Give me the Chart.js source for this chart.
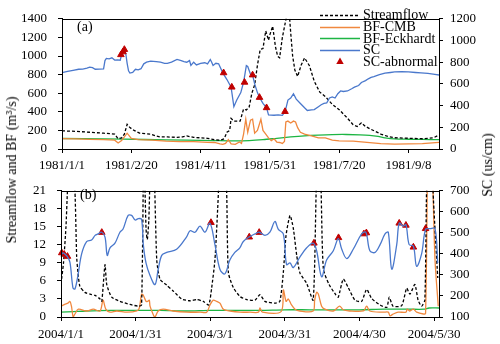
<!DOCTYPE html>
<html><head><meta charset="utf-8">
<script src="https://cdn.jsdelivr.net/npm/chart.js@4/dist/chart.umd.min.js"></script>
<style>
html,body{margin:0;padding:0;background:#fff;}
#wrap{position:relative;width:500px;height:344px;overflow:hidden;background:#fff;}
canvas{position:absolute;left:0;}
#ca{top:0}
#cb{top:172px}
.yt{position:absolute;font-family:'Liberation Serif','Times New Roman',serif;font-size:14px;color:#000;white-space:nowrap;transform:translate(-50%,-50%) rotate(-90deg);}
</style></head><body>
<div id="wrap">
<canvas id="ca" width="500" height="172"></canvas>
<canvas id="cb" width="500" height="172"></canvas>
<div class="yt" style="left:12px;top:170px">Streamflow and BF (m³/s)</div>
<div class="yt" style="left:488px;top:165px">SC (us/cm)</div>
</div>
<script>
// ---------- Panel (a): 1981, x = days since 1981/1/1 ----------
const aTickDays = [0, 50, 100, 150, 200, 250];
const aTickLabels = ['1981/1/1', '1981/2/20', '1981/4/11', '1981/5/31', '1981/7/20', '1981/9/8'];
const aLeftTicks = [0, 200, 400, 600, 800, 1000, 1200, 1400];
const aRightTicks = [0, 200, 400, 600, 800, 1000, 1200];

const aQDays = [0, 10, 20, 30, 38, 40.5, 43, 45, 47, 49, 52, 56, 60, 64, 68, 71, 76, 83, 87, 90, 95, 100, 105, 110, 114, 117, 119, 121, 122, 124, 126, 128.5, 131, 133, 135, 137, 139, 141, 143, 145, 147, 149, 150, 152, 154, 155.6, 157, 159, 162.3, 163.5, 165, 166.4, 168, 170, 172.5, 175, 178.5, 182, 186, 190, 195, 200, 206, 210, 213, 216, 219, 223, 230, 235, 240, 250, 260, 268, 272];
const aQ = [195, 190, 180, 170, 160, 110, 120, 160, 265, 230, 200, 170, 165, 160, 140, 130, 130, 125, 130, 140, 125, 120, 115, 100, 95, 110, 180, 200, 330, 300, 300, 300, 430, 420, 450, 600, 690, 900, 1070, 1080, 1270, 1170, 1230, 1320, 1100, 997, 980, 1200, 1450, 1550, 1250, 1000, 850, 780, 900, 980, 896, 728, 611, 564, 480, 423, 330, 262, 242, 282, 242, 211, 161, 135, 121, 115, 110, 120, 150];

const aBfDays = [0, 10, 20, 30, 38, 40.5, 43, 47, 50, 55, 65, 75, 85, 95, 105, 110, 114, 116, 118, 120, 122, 125, 128, 129.5, 131, 132.6, 134, 136, 137.5, 139, 141, 143.5, 145, 147, 149, 151, 153, 155, 157, 159, 160.5, 161.5, 163, 165, 167, 168.5, 170, 172, 175, 180, 185, 190, 195, 200, 210, 220, 230, 240, 250, 260, 272];
const aBf = [112, 108, 104, 100, 95, 64, 90, 170, 115, 100, 95, 85, 80, 80, 72, 70, 55, 50, 60, 100, 55, 50, 75, 60, 160, 320, 180, 310, 320, 170, 200, 320, 200, 160, 120, 90, 110, 75, 70, 60, 80, 290, 300, 280, 300, 290, 230, 180, 160, 140, 120, 120, 95, 88, 84, 72, 58, 52, 55, 58, 72];

const aEkDays = [0, 30, 60, 90, 110, 125, 135, 145, 155, 165, 175, 185, 195, 205, 215, 222, 228, 233, 240, 250, 260, 272];
const aEk = [113, 108, 102, 95, 90, 87, 90, 100, 115, 130, 142, 150, 155, 156, 152, 146, 135, 120, 108, 105, 103, 100];

const aScDays = [0, 4, 8, 12, 15, 18, 20, 22, 24, 27, 30, 31, 32, 34, 36, 38, 40, 42, 43, 44, 45, 46, 47, 48, 49, 51, 53, 55, 57, 59, 61, 64, 68, 71, 74, 76, 79, 83, 86, 88, 90, 92, 93, 95, 97, 100, 103, 105, 107, 108, 109, 111, 113, 116, 119, 122, 124, 126, 129, 131, 133, 134, 136, 137.5, 139, 141, 142.5, 145, 147.6, 149, 153, 156, 159, 161, 163, 165, 167, 169, 172, 175, 177, 180, 182, 185, 187, 189, 191, 193, 195, 197, 199, 201, 203, 206, 209, 211, 214, 216, 219, 221, 223, 225, 229, 233, 237, 240, 245, 250, 255, 259, 264, 269, 272];
const aSc = [703, 715, 725, 735, 737, 745, 755, 750, 735, 737, 738, 815, 835, 830, 840, 820, 822, 818, 870, 900, 925, 880, 790, 720, 700, 705, 735, 730, 740, 785, 800, 810, 805, 800, 790, 790, 800, 825, 815, 805, 800, 815, 770, 800, 775, 790, 795, 785, 825, 800, 770, 790, 785, 702, 640, 570, 390, 450, 520, 615, 768, 760, 690, 682, 600, 520, 475, 420, 380, 315, 311, 315, 310, 345, 451, 470, 509, 460, 420, 380, 355, 360, 363, 390, 408, 420, 425, 470, 480, 470, 510, 535, 530, 535, 555, 570, 585, 613, 630, 647, 660, 667, 685, 699, 705, 710, 712, 710, 705, 702, 697, 688, 682];

const aAbnDays = [42.5, 44, 45, 116.6, 122.5, 131.7, 137.5, 142.5, 147.6, 160.9];
const aAbn = [869, 895, 917, 702, 570, 615, 682, 475, 380, 345];

// ---------- Panel (b): 2004, x = days since 2004/1/1 ----------
const bTickDays = [0, 30, 60, 90, 120, 150];
const bTickLabels = ['2004/1/1', '2004/1/31', '2004/3/1', '2004/3/31', '2004/4/30', '2004/5/30'];
const bLeftTicks = [0, 3, 6, 9, 12, 15, 18, 21];
const bRightTicks = [100, 200, 300, 400, 500, 600, 700];

const bQDays = [0, 1, 2, 2.6, 4, 5.6, 6.3, 6.8, 7.6, 9.6, 11.7, 13.7, 15.7, 16.4, 17.7, 18.4, 20.4, 23.7, 27.7, 31.1, 32.4, 33.3, 34.2, 34.7, 35.3, 36.2, 37.2, 38.5, 39.8, 42.5, 45.2, 48.5, 51.9, 54.6, 57.2, 59.4, 60.6, 61.9, 63, 65, 66.6, 67.3, 69.3, 72, 74.7, 78, 80, 82, 86, 88, 89.4, 90.5, 92.1, 93.4, 94.8, 96.1, 98.8, 101.4, 102.6, 103.6, 104.6, 105.5, 107.8, 110.5, 111.5, 113.5, 115.5, 118.2, 120.9, 122.9, 124.9, 128.3, 131, 132, 133.5, 137, 139, 140.3, 142.3, 143.6, 145, 146.3, 147, 148.3, 149.6, 151.5];
const bQ = [5.5, 9, 15, 21, 30, 21, 10, 7.5, 5.1, 4.1, 3.8, 3.6, 3.0, 2.6, 8.7, 5.4, 3.3, 2.6, 2.1, 1.8, 2.0, 28, 14.6, 12.9, 16, 28, 28, 9.5, 6.3, 5.3, 4.3, 3.0, 2.7, 2.9, 2.6, 2.0, 4.9, 9.5, 18, 35, 21, 7.4, 4.9, 3.4, 2.9, 2.8, 3.7, 2.6, 2.3, 2.6, 7.4, 13.6, 16.9, 14.8, 10.2, 7.3, 5.6, 2.8, 21, 35, 21, 8.0, 5.4, 3.7, 3.3, 6.3, 4.9, 2.8, 2.6, 4.6, 3.1, 2.0, 1.6, 3.3, 1.8, 1.9, 4.8, 3.8, 5.4, 2.8, 1.8, 2.8, 21, 40, 21, 6.5];

const bBfDays = [0, 1.5, 2.8, 3.6, 4.2, 4.9, 5.6, 7, 10.3, 13, 15.7, 16.9, 18, 19.7, 22.4, 26.5, 30.5, 31.5, 32.4, 33.1, 34.2, 34.8, 35.5, 35.8, 37.2, 37.8, 39.1, 41.1, 45, 50.5, 55.9, 58.6, 59.9, 61.2, 62.6, 63.9, 65.3, 68, 72, 76, 79.4, 80, 81, 88.5, 89.4, 90.5, 91.4, 92.7, 94.1, 96, 101.4, 102, 102.8, 103.5, 104.8, 106.1, 109.5, 112, 113.5, 116, 121.6, 122.9, 124.2, 129.6, 131.6, 132.3, 133.6, 135.6, 138.7, 139.2, 140.3, 141.7, 143, 145.7, 146.6, 147.6, 148.6, 149.6, 150.4, 151.7];
const bBf = [1.8, 2.1, 2.3, 2.6, 1.8, 0.0, 0.5, 1.3, 1.0, 1.3, 1.0, 2.8, 1.3, 0.8, 1.0, 0.8, 1.0, 1.5, 3.8, 3.6, 2.6, 2.6, 2.8, 1.8, 0.3, 0.0, 1.0, 1.3, 1.0, 0.8, 0.8, 0.8, 2.0, 2.8, 2.6, 2.3, 1.3, 1.0, 0.8, 0.8, 0.8, 1.5, 0.8, 0.9, 4.5, 2.6, 3.0, 2.0, 1.3, 1.0, 1.0, 2.8, 4.1, 3.8, 1.8, 1.3, 1.0, 1.8, 1.2, 1.0, 1.0, 1.8, 1.0, 0.8, 0.8, 0.2, 0.5, 0.8, 0.8, 1.3, 1.0, 1.3, 0.8, 0.5, 0.6, 30, 35, 21, 9.5, 1.8];

const bEkDays = [0, 5, 10, 20, 30, 40, 50, 60, 70, 80, 90, 100, 110, 120, 130, 140, 146, 148, 152];
const bEk = [0.8, 0.9, 1.0, 1.1, 1.1, 1.1, 1.0, 1.1, 1.1, 1.1, 1.2, 1.2, 1.2, 1.2, 1.3, 1.3, 1.3, 1.5, 1.5];

const bScDays = [0, 0.8, 1.5, 2.5, 3.6, 4.8, 5.6, 6.8, 8.3, 10.3, 12.3, 13.7, 14.9, 16.4, 17.7, 18.6, 19.7, 21.7, 23.7, 24.9, 27, 28.4, 29.8, 31.1, 32.4, 33.1, 34.2, 35.8, 37.8, 39.1, 40.5, 42.5, 46.5, 50.5, 51.9, 53.9, 55.9, 57.9, 59.9, 61.9, 63.9, 65.9, 67.9, 69.9, 71.9, 73.3, 75.7, 78, 79.7, 82, 84, 86, 87.4, 89.4, 90.7, 92.1, 93.4, 96.1, 98.8, 101.4, 102.8, 104.8, 106.8, 109.5, 111.5, 112.9, 114.9, 117.5, 120.9, 122.6, 124.2, 126.3, 128.3, 130.3, 131.6, 133, 135, 136, 137.6, 138.7, 140, 141.7, 143, 145, 146.6, 148.4, 150.4, 151.5];
const bSc = [395, 405, 400, 388, 360, 239, 233, 297, 400, 458, 466, 488, 495, 503, 480, 393, 429, 451, 503, 517, 583, 583, 561, 568, 564, 444, 356, 297, 254, 327, 393, 407, 422, 481, 510, 503, 532, 503, 546, 444, 327, 305, 371, 407, 429, 459, 481, 495, 503, 488, 503, 554, 517, 495, 349, 357, 335, 386, 429, 451, 415, 291, 371, 415, 473, 422, 378, 422, 495, 503, 415, 407, 444, 495, 503, 327, 444, 546, 532, 539, 444, 437, 341, 400, 517, 520, 520, 356];

const bAbnDays = [0.3, 1.3, 2.6, 16.4, 60.3, 75.7, 79.7, 101.7, 111.6, 121.8, 122.8, 136, 138.7, 141.7, 146.6];
const bAbn = [405, 398, 388, 502, 549, 480, 502, 451, 477, 495, 500, 546, 536, 432, 520];

// ---------- helpers ----------
const FONT = "'Liberation Serif','Times New Roman',serif";
const C_Q = '#000000', C_BF = '#F0883E', C_EK = '#1DB543', C_SC = '#4A78CC', C_AB = '#C00000';
const pts = (xs, ys) => xs.map((x, i) => ({x: x, y: ys[i]}));

function lineDs(label, xs, ys, color, axis, dash, tension) {
  return {label: label, data: pts(xs, ys), yAxisID: axis, borderColor: color, backgroundColor: color,
    borderWidth: 1.3, borderDash: dash || [], pointRadius: 0, tension: tension || 0, fill: false};
}
function triDs(xs, ys) {
  return {label: 'SC-abnormal', data: pts(xs, ys), yAxisID: 'y2', showLine: false,
    pointStyle: 'triangle', pointRadius: 3.8, pointBorderWidth: 1, pointBackgroundColor: C_AB,
    pointBorderColor: C_AB, borderColor: C_AB, backgroundColor: C_AB, clip: false};
}

const framePlugin = {
  id: 'frame',
  afterDraw(chart) {
    const a = chart.chartArea, ctx = chart.ctx;
    ctx.save(); ctx.strokeStyle = '#000'; ctx.lineWidth = 1;
    ctx.strokeRect(Math.round(a.left) + 0.5, Math.round(a.top) + 0.5, Math.round(a.right - a.left), Math.round(a.bottom - a.top));
    ctx.restore();
  }
};

function textPlugin(id, label, x, y) {
  return {id: id, afterDraw(chart) {
    const ctx = chart.ctx; ctx.save();
    ctx.font = '14px ' + FONT; ctx.fillStyle = '#000'; ctx.textBaseline = 'middle'; ctx.textAlign = 'left';
    ctx.fillText(label, x, y); ctx.restore();
  }};
}

const legendPlugin = {
  id: 'leg',
  afterDraw(chart) {
    const ctx = chart.ctx; ctx.save();
    const items = [
      {t: 'Streamflow', c: C_Q, dash: [3, 2]},
      {t: 'BF-CMB', c: C_BF},
      {t: 'BF-Eckhardt', c: C_EK},
      {t: 'SC', c: C_SC},
      {t: 'SC-abnormal', c: C_AB, tri: true}
    ];
    const x0 = 320, x1 = 360, tx = 363, y0 = 15, dy = 11.7;
    ctx.font = '14px ' + FONT; ctx.textBaseline = 'middle'; ctx.textAlign = 'left';
    items.forEach((it, i) => {
      const y = y0 + i * dy;
      if (it.tri) {
        const r = 4.3;
        ctx.beginPath();
        ctx.moveTo(340, y - r);
        ctx.lineTo(340 + r * 0.866, y + r * 0.5);
        ctx.lineTo(340 - r * 0.866, y + r * 0.5);
        ctx.closePath(); ctx.fillStyle = it.c; ctx.fill();
      } else {
        ctx.beginPath(); ctx.setLineDash(it.dash || []); ctx.strokeStyle = it.c; ctx.lineWidth = 1.4;
        ctx.moveTo(x0, Math.round(y) + 0.5); ctx.lineTo(x1, Math.round(y) + 0.5); ctx.stroke(); ctx.setLineDash([]);
      }
      ctx.fillStyle = '#000'; ctx.fillText(it.t, tx, y + 0.5);
    });
    ctx.restore();
  }
};

function makeScales(cfg) {
  const tickFont = {family: FONT, size: 13};
  return {
    x: {type: 'linear', min: cfg.xmin, max: cfg.xmax,
      afterBuildTicks: s => { s.ticks = cfg.tickDays.map(v => ({value: v})); },
      ticks: {callback: v => cfg.tickLabels[cfg.tickDays.indexOf(v)], font: tickFont, color: '#000',
        maxRotation: 0, autoSkip: false, padding: cfg.xpad},
      grid: {drawOnChartArea: false, drawTicks: true, tickLength: 4, color: '#000'},
      border: {color: '#000', width: 1},
      afterFit: s => { s.height = cfg.xh; }},
    y: {type: 'linear', position: 'left', min: cfg.ymin, max: cfg.ymax,
      afterBuildTicks: s => { s.ticks = cfg.leftTicks.map(v => ({value: v})); },
      ticks: {callback: v => String(v), autoSkip: false, font: tickFont, color: '#000', padding: 11},
      grid: {drawOnChartArea: false, drawTicks: true, tickLength: 4, color: '#000'},
      border: {color: '#000', width: 1},
      afterFit: s => { s.width = cfg.lw; }},
    y2: {type: 'linear', position: 'right', min: cfg.y2min, max: cfg.y2max,
      afterBuildTicks: s => { s.ticks = cfg.rightTicks.map(v => ({value: v})); },
      ticks: {callback: v => String(v), autoSkip: false, font: tickFont, color: '#000', padding: 7},
      grid: {drawOnChartArea: false, drawTicks: true, tickLength: 4, color: '#000'},
      border: {color: '#000', width: 1},
      afterFit: s => { s.width = 61; }}
  };
}

Chart.defaults.font.family = FONT;

new Chart(document.getElementById('ca'), {
  type: 'line',
  data: {datasets: [
    triDs(aAbnDays, aAbn),
    lineDs('SC', aScDays, aSc, C_SC, 'y2'),
    lineDs('Streamflow', aQDays, aQ, C_Q, 'y', [3, 2]),
    lineDs('BF-CMB', aBfDays, aBf, C_BF, 'y'),
    lineDs('BF-Eckhardt', aEkDays, aEk, C_EK, 'y', null, 0.3)
  ]},
  options: {
    responsive: false, animation: false, devicePixelRatio: 1,
    layout: {padding: {top: 10, left: 0, right: 0, bottom: 0}},
    plugins: {legend: {display: false}, tooltip: {enabled: false}},
    scales: makeScales({xmin: 0, xmax: 272, tickDays: aTickDays, tickLabels: aTickLabels, xpad: 5, xh: 23,
      ymin: 0, ymax: 1400, leftTicks: aLeftTicks, lw: 62, y2min: 0, y2max: 1200, rightTicks: aRightTicks})
  },
  plugins: [framePlugin, legendPlugin, textPlugin('pa', '(a)', 77, 27)]
});

new Chart(document.getElementById('cb'), {
  type: 'line',
  data: {datasets: [
    lineDs('SC', bScDays, bSc, C_SC, 'y2', null, 0.35),
    triDs(bAbnDays, bAbn),
    lineDs('Streamflow', bQDays, bQ, C_Q, 'y', [3, 2], 0.2),
    lineDs('BF-CMB', bBfDays, bBf, C_BF, 'y', null, 0.3),
    lineDs('BF-Eckhardt', bEkDays, bEk, C_EK, 'y', null, 0.3)
  ]},
  options: {
    responsive: false, animation: false, devicePixelRatio: 1,
    layout: {padding: {top: 8, left: 0, right: 0, bottom: 0}},
    plugins: {legend: {display: false}, tooltip: {enabled: false}},
    scales: makeScales({xmin: 0, xmax: 152, tickDays: bTickDays, tickLabels: bTickLabels, xpad: 6, xh: 27,
      ymin: 0, ymax: 21, leftTicks: bLeftTicks, lw: 61, y2min: 100, y2max: 700, rightTicks: bRightTicks})
  },
  plugins: [framePlugin, textPlugin('pb', '(b)', 80, 23)]
});
</script>
</body></html>
